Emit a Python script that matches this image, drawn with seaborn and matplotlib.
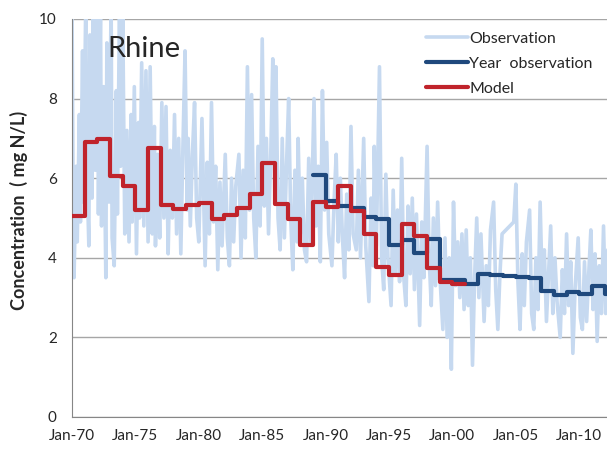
import numpy as np
import pandas as pd
import matplotlib
matplotlib.use("Agg")
import matplotlib.pyplot as plt
import matplotlib.dates as mdates
import seaborn as sns

# Observation (monthly peaks/troughs), per decade
obs70_t = ["1970-01", "1970-02", "1970-03", "1970-05", "1970-06", "1970-08", "1970-09", "1970-11", "1970-12",
           "1971-02", "1971-03", "1971-05", "1971-06", "1971-08", "1971-09", "1971-11",
           "1972-01", "1972-02", "1972-04", "1972-05", "1972-07", "1972-09", "1972-10", "1972-12",
           "1973-02", "1973-03", "1973-05", "1973-07", "1973-08", "1973-10", "1973-11",
           "1974-01", "1974-03", "1974-05", "1974-07", "1974-09", "1974-10", "1974-12",
           "1975-02", "1975-04", "1975-05", "1975-07", "1975-09", "1975-11",
           "1976-01", "1976-03", "1976-05", "1976-07", "1976-08", "1976-10", "1976-12",
           "1977-02", "1977-04", "1977-06", "1977-08", "1977-10", "1977-12",
           "1978-02", "1978-04", "1978-06", "1978-08", "1978-10", "1978-12",
           "1979-02", "1979-03", "1979-05", "1979-07", "1979-09", "1979-11"]
obs70_v = [10.3, 5.8, 3.5, 6.3, 4.4, 7.6, 4.9, 9.2, 5.4,
           10.5, 6.4, 4.3, 9.6, 5.5, 10.4, 6.2,
           10.6, 5.1, 10.3, 4.8, 8.3, 3.5, 9.4, 5.4,
           10.5, 4.5, 3.8, 8.2, 5.1, 10.4, 6.3,
           10.2, 4.6, 7.2, 4.4, 7.6, 4.9, 8.3,
           4.1, 7.4, 5.0, 8.9, 4.8, 8.7,
           4.4, 8.8, 4.6, 7.3, 4.3, 6.6, 4.5,
           7.9, 5.0, 7.8, 4.1, 6.7, 5.0,
           7.6, 4.6, 7.0, 4.1, 6.8, 9.2,
           5.2, 7.0, 4.8, 6.6, 7.9, 5.0]

obs80_t = ["1980-01", "1980-04", "1980-07", "1980-09", "1980-11",
           "1981-01", "1981-03", "1981-05", "1981-07", "1981-09", "1981-11",
           "1982-02", "1982-04", "1982-06", "1982-08", "1982-10", "1982-12",
           "1983-03", "1983-05", "1983-07", "1983-09", "1983-11",
           "1984-01", "1984-03", "1984-05", "1984-07", "1984-09", "1984-11",
           "1985-01", "1985-03", "1985-05", "1985-07", "1985-09", "1985-11",
           "1986-01", "1986-02", "1986-04", "1986-06", "1986-08", "1986-10", "1986-12",
           "1987-02", "1987-04", "1987-06", "1987-08", "1987-10", "1987-11",
           "1988-01", "1988-03", "1988-05", "1988-07", "1988-09", "1988-11",
           "1989-02", "1989-04", "1989-06", "1989-08", "1989-10", "1989-12"]
obs80_v = [4.4, 7.5, 3.8, 6.4, 4.6,
           7.9, 4.9, 6.3, 3.7, 5.9, 4.3,
           6.6, 4.5, 3.8, 6.0, 4.4, 5.8,
           6.6, 4.0, 6.2, 4.5, 8.8,
           5.2, 8.1, 5.0, 4.0, 6.8, 4.8,
           9.5, 5.3, 7.0, 4.6, 6.5, 9.0,
           5.4, 8.8, 5.0, 4.2, 7.0, 4.5, 6.3,
           8.0, 5.0, 3.7, 6.2, 4.4, 7.0,
           4.6, 6.0, 4.2, 3.9, 6.5, 4.4,
           8.0, 4.8, 6.3, 3.9, 8.2, 5.2]

obs90_t = ["1990-02", "1990-04", "1990-07", "1990-09", "1990-11",
           "1991-01", "1991-03", "1991-05", "1991-07", "1991-09", "1991-11",
           "1992-01", "1992-03", "1992-06", "1992-08", "1992-10",
           "1993-01", "1993-03", "1993-06", "1993-08", "1993-10", "1993-11",
           "1994-01", "1994-04", "1994-06", "1994-08", "1994-10", "1994-12",
           "1995-03", "1995-05", "1995-07", "1995-09", "1995-11",
           "1996-01", "1996-03", "1996-05", "1996-07", "1996-09", "1996-11",
           "1997-01", "1997-03", "1997-06", "1997-08", "1997-10",
           "1998-01", "1998-03", "1998-05", "1998-07", "1998-09", "1998-11",
           "1999-01", "1999-04", "1999-06", "1999-08", "1999-10", "1999-12"]
obs90_v = [6.9, 4.6, 3.8, 5.4, 6.6,
           4.4, 6.0, 4.5, 3.5, 5.6, 4.2,
           7.3, 4.6, 4.2, 6.2, 4.0,
           7.0, 4.3, 2.9, 5.5, 3.8, 6.8,
           4.3, 8.8, 4.0, 3.2, 6.1, 4.0,
           2.8, 5.7, 3.6, 5.2, 3.4,
           6.5, 3.5, 2.8, 5.3, 3.6, 5.5,
           3.2, 5.1, 2.3, 4.9, 3.5,
           6.8, 4.0, 2.8, 5.0, 3.3, 5.4,
           3.6, 2.2, 4.5, 2.0, 4.0, 1.2]

obs00_t = ["2000-02", "2000-04", "2000-06", "2000-08", "2000-10", "2000-12",
           "2001-02", "2001-04", "2001-06", "2001-08", "2001-10", "2001-12",
           "2002-02", "2002-04", "2002-07", "2002-09", "2002-11",
           "2003-01", "2003-04", "2003-06", "2003-08", "2003-10", "2003-12",
           "2004-11",
           "2005-01", "2005-03", "2005-05", "2005-07", "2005-09", "2005-11",
           "2006-02", "2006-04", "2006-06", "2006-08", "2006-10", "2006-12",
           "2007-02", "2007-04", "2007-06", "2007-08", "2007-10", "2007-12",
           "2008-02", "2008-04", "2008-07", "2008-09", "2008-11",
           "2009-01", "2009-03", "2009-05", "2009-07", "2009-09", "2009-12",
           "2010-02", "2010-04", "2010-06", "2010-08", "2010-10", "2010-12",
           "2011-02", "2011-04", "2011-06", "2011-08", "2011-10", "2011-12",
           "2012-02", "2012-04"]
obs00_v = [5.4, 3.3, 4.4, 3.0, 4.6, 2.7,
           4.7, 2.8, 4.0, 1.3, 3.5, 5.0,
           3.0, 4.6, 2.4, 3.8, 2.8,
           4.7, 5.4, 3.2, 2.2, 3.6, 4.6,
           4.9,
           5.85, 3.4, 2.2, 4.1, 2.8, 4.4,
           5.2, 2.6, 2.2, 4.0, 2.7, 5.4,
           3.2, 4.2, 2.4, 3.6, 4.8, 2.6,
           4.0, 2.9, 2.0, 3.7, 2.6,
           4.6, 2.8, 3.9, 1.6, 3.2, 4.5,
           2.5, 2.2, 3.9, 2.4, 3.6, 4.7,
           2.7, 4.1, 1.9, 3.8, 2.6, 4.8,
           2.6, 4.2]

# Yearly observation mean (step)
yearobs_years = list(range(1989, 2013))
yearobs_vals = [6.08, 5.43, 5.31, 5.25, 5.02, 4.98, 4.33, 4.45, 4.12, 4.48,
                3.45, 3.45, 3.33, 3.59, 3.56, 3.54, 3.52, 3.48, 3.16, 3.07,
                3.13, 3.09, 3.28, 3.08]

# Model (step)
model_years = list(range(1970, 2001))
model_vals = [5.05, 6.91, 6.98, 6.06, 5.80, 5.20, 6.76, 5.33, 5.23, 5.32,
              5.37, 4.98, 5.08, 5.24, 5.60, 6.37, 5.34, 4.98, 4.33, 5.39,
              5.28, 5.81, 5.18, 4.59, 3.78, 3.56, 4.85, 4.56, 3.74, 3.40,
              3.35]

obs = pd.DataFrame({
    "date": pd.to_datetime(obs70_t + obs80_t + obs90_t + obs00_t, format="%Y-%m"),
    "conc": obs70_v + obs80_v + obs90_v + obs00_v,
})


def step_frame(years, vals):
    # repeat last value one year on so the final step has width
    d = pd.to_datetime([f"{y}-01-01" for y in years + [years[-1] + 1]])
    return pd.DataFrame({"date": d, "conc": vals + [vals[-1]]})


yearobs = step_frame(yearobs_years, yearobs_vals)
model = step_frame(model_years, model_vals)

sns.set_style("white")
plt.rcParams['font.family'] = ['Lato', 'DejaVu Sans']

fig = plt.figure(figsize=(6.07, 4.5), dpi=100)
ax = fig.add_axes([72 / 607, 33 / 450, 535 / 607, 398 / 450])

sns.lineplot(data=obs, x="date", y="conc", color="#C6D9F0", lw=2.6,
             label="Observation", ax=ax, zorder=2)
sns.lineplot(data=yearobs, x="date", y="conc", color="#1F497D", lw=3.0,
             drawstyle="steps-post", label="Year  observation", ax=ax, zorder=3)
sns.lineplot(data=model, x="date", y="conc", color="#C0232B", lw=3.0,
             drawstyle="steps-post", label="Model", ax=ax, zorder=4)

ax.set_xlim(pd.Timestamp("1970-01-01"), pd.Timestamp("2012-03-10"))
ax.set_ylim(0, 10)
ax.set_yticks([0, 2, 4, 6, 8, 10])
ax.xaxis.set_major_locator(mdates.YearLocator(5))
ax.xaxis.set_major_formatter(mdates.DateFormatter("%b-%y"))
ax.yaxis.grid(True, color="#A6A6A6", lw=1)
ax.set_axisbelow(True)
for s in ["top", "right"]:
    ax.spines[s].set_visible(False)
for s in ["left", "bottom"]:
    ax.spines[s].set_color("#868686")
ax.tick_params(axis="both", direction="out", length=5, color="#868686",
               labelsize=11, pad=4)
ax.tick_params(axis="y", pad=6)

ax.set_xlabel("")
ax.set_ylabel("Concentration  ( mg N/L)", fontsize=13, fontweight="bold")
ax.yaxis.set_label_coords(-0.082, 0.52)
ax.text(0.067, 0.905, "Rhine", transform=ax.transAxes, fontsize=21)

ax.legend(loc="upper right", bbox_to_anchor=(1.0, 1.005), frameon=False,
          fontsize=11.5, handlelength=2.6, handletextpad=0.1, labelspacing=0.68)

fig.savefig("out.png", dpi=100)
